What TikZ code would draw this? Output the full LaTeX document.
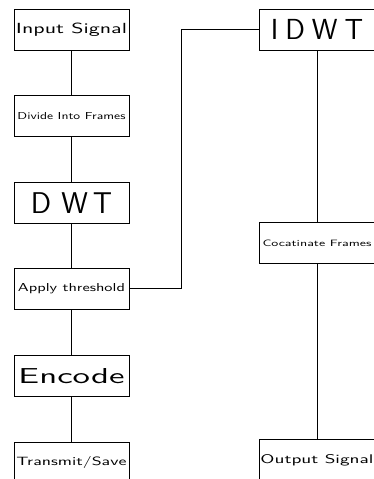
\documentclass[tikz,border=0pt]{standalone}
\usepackage{fontspec}
\usepackage{graphicx}
\usetikzlibrary{positioning}

% squeeze a label into the width and height the stage box prints it at
\newcommand{\fitlabel}[3]{\resizebox{#1}{#2}{#3}}

\begin{document}
\begin{tikzpicture}[node distance=45pt, stage/.style={draw, line width=0.8pt, minimum width=115pt, minimum height=41pt, inner sep=0pt, font=\sffamily}]
\useasboundingbox (0pt,0pt) rectangle (374pt,479pt);
% coding side
\node[stage] (input) at (71.5pt,449.5pt) {\fitlabel{111pt}{10.5pt}{Input Signal}};
\node[stage, below=of input] (divide) {\fitlabel{108pt}{7pt}{Divide Into Frames}};
\node[stage, below=of divide] (dwt) {\fontsize{30}{30}\selectfont D\kern10pt W\kern5pt T};
\node[stage, below=44pt of dwt] (thresh) {\fitlabel{107pt}{8pt}{Apply threshold}};
\node[stage, below=of thresh] (encode) {\fitlabel{106pt}{15pt}{Encode}};
\node[stage, below=of encode] (transmit) {\fitlabel{110pt}{9pt}{Transmit/Save}};
% decoding side
\node[stage, minimum width=116pt] (idwt) at (317pt,449.5pt) {\fontsize{29}{29}\selectfont I\kern7pt D\kern7pt W\kern7pt T};
\node[stage, minimum width=116pt, below=172pt of idwt] (concat) {\fitlabel{109pt}{6.5pt}{Cocatinate Frames}};
\node[stage, minimum width=116pt, below=175pt of concat] (output) {\fitlabel{113pt}{9pt}{Output Signal}};
\coordinate (turn) at ([xshift=52pt]thresh.east);
\draw[line width=0.8pt] (input) -- (divide);
\draw[line width=0.8pt] (divide) -- (dwt);
\draw[line width=0.8pt] (dwt) -- (thresh);
\draw[line width=0.8pt] (thresh) -- (encode);
\draw[line width=0.8pt] (encode) -- (transmit);
\draw[line width=0.8pt] (thresh.east) -- (turn) |- (idwt.west);
\draw[line width=0.8pt] (idwt) -- (concat);
\draw[line width=0.8pt] (concat) -- (output);
\end{tikzpicture}
\end{document}
